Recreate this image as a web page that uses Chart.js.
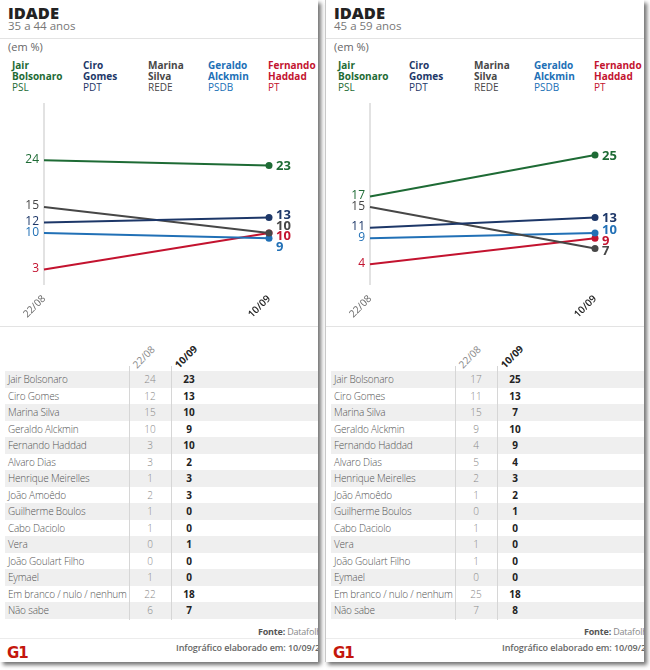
<!DOCTYPE html>
<html lang="pt-BR">
<head>
<meta charset="utf-8">
<script src="https://cdn.jsdelivr.net/npm/chart.js@4.4.1/dist/chart.umd.min.js"></script>
<style>
  body { margin: 0; width: 650px; height: 670px; background: #fff; font-family: 'Open Sans', sans-serif; position: relative; overflow: hidden; }
  .painel { position: absolute; top: 0; width: 318px; height: 662px; background: #fff; overflow: hidden; box-shadow: 3px 3px 4px rgba(0,0,0,.55); }
  .titulo { position: absolute; left: 8px; top: 1px; font-size: 16.5px; font-weight: 800; color: #222; }
  .faixa { position: absolute; left: 8px; top: 18px; font-size: 11.5px; color: #777; }
  .sep { position: absolute; left: 0; right: 0; height: 1px; background: #e3e3e3; }
  .unidade { position: absolute; left: 8px; top: 39px; font-size: 11px; color: #666; }
  .leg { position: absolute; top: 60px; font-size: 10px; line-height: 11px; }
  .leg b { display: block; font-weight: 700; }
  .grafico { position: absolute; left: 0; top: 95px; width: 318px; height: 231px; }
  .cab { position: absolute; top: 357px; font-size: 10px; transform: rotate(-45deg); transform-origin: left bottom; }
  .linha { position: absolute; left: 5px; right: 0; height: 16.5px; font-size: 10px; line-height: 16.5px; color: #555; }
  .linha span { position: absolute; top: 0; }
  .vline { position: absolute; top: 366px; height: 254px; width: 1px; background: #d6d6d6; }
  .fonte { position: absolute; left: 258px; top: 625px; font-size: 9px; letter-spacing: -0.2px; color: #888; white-space: nowrap; }
  .rodape { position: absolute; left: 176px; top: 641px; font-size: 9px; letter-spacing: -0.1px; font-weight: 600; color: #666; white-space: nowrap; }
  .g1 { position: absolute; left: 7px; top: 644px; font-size: 15px; font-weight: 900; color: #c4170c; letter-spacing: -1px; font-family: 'DejaVu Sans', sans-serif; }
</style>
</head>
<body>
<script>
// Pesquisa Datafolha - intenção de voto por idade
const datas = ['22/08', '10/09'];
const faixas = ['35 a 44 anos', '45 a 59 anos'];

const legendaNomes = [['Jair', 'Bolsonaro'], ['Ciro', 'Gomes'], ['Marina', 'Silva'], ['Geraldo', 'Alckmin'], ['Fernando', 'Haddad']];
const partidos = ['PSL', 'PDT', 'REDE', 'PSDB', 'PT'];
const cores = ['#1e6b35', '#1d3768', '#474747', '#2170b6', '#c3132f'];

const linhasTabela = [
    'Jair Bolsonaro', 'Ciro Gomes', 'Marina Silva', 'Geraldo Alckmin', 'Fernando Haddad',
    'Alvaro Dias', 'Henrique Meirelles', 'João Amoêdo', 'Guilherme Boulos', 'Cabo Daciolo',
    'Vera', 'João Goulart Filho', 'Eymael', 'Em branco / nulo / nenhum', 'Não sabe',
];

// os 5 primeiros valores de cada lista são as linhas do gráfico
const idade35a44_2208 = [24, 12, 15, 10, 3, 3, 1, 2, 1, 1, 0, 0, 1, 22, 6];
const idade35a44_1009 = [23, 13, 10, 9, 10, 2, 3, 3, 0, 0, 1, 0, 0, 18, 7];
const idade45a59_2208 = [17, 11, 15, 9, 4, 5, 2, 1, 0, 1, 1, 1, 0, 25, 7];
const idade45a59_1009 = [25, 13, 7, 10, 9, 4, 3, 2, 1, 0, 0, 0, 0, 18, 8];

const paineis = [
    { faixa: faixas[0], antes: idade35a44_2208, depois: idade35a44_1009, left: 0 },
    { faixa: faixas[1], antes: idade45a59_2208, depois: idade45a59_1009, left: 325 },
];

const colunasLegenda = [12, 83, 148, 208, 268];

// afasta rótulos que ficariam sobrepostos
function espalhar(itens, gap) {
    itens.sort((a, b) => a.y - b.y || a.i - b.i);
    for (let k = 0; k < 60; k++) {
        for (let j = 1; j < itens.length; j++) {
            const d = itens[j].y - itens[j - 1].y;
            if (d < gap) {
                const m = (gap - d) / 2;
                itens[j - 1].y -= m;
                itens[j].y += m;
            }
        }
    }
    return itens;
}

const eixoERotulos = {
    id: 'eixoERotulos',
    beforeDatasetsDraw(chart) {
        const { ctx, chartArea, scales: { x } } = chart;
        const x0 = x.getPixelForValue(0);
        ctx.save();
        ctx.strokeStyle = '#d9d9d9';
        ctx.lineWidth = 1.5;
        ctx.beginPath();
        ctx.moveTo(x0, chartArea.top);
        ctx.lineTo(x0, chartArea.bottom);
        ctx.stroke();
        ctx.restore();
    },
    afterDatasetsDraw(chart) {
        const { ctx, scales: { x, y } } = chart;
        const ds = chart.data.datasets;
        const inicio = espalhar(ds.map((d, i) => ({ i, v: d.data[0], y: y.getPixelForValue(d.data[0]) })), 11);
        const fim = espalhar(ds.map((d, i) => ({ i, v: d.data[1], y: y.getPixelForValue(d.data[1]) })), 10.5);
        ctx.save();
        ctx.textBaseline = 'middle';
        ctx.textAlign = 'right';
        ctx.font = '12px "Open Sans"';
        inicio.forEach((r) => {
            ctx.fillStyle = cores[r.i];
            ctx.fillText(r.v, x.getPixelForValue(0) - 5, r.y - 1);
        });
        ctx.textAlign = 'left';
        ctx.font = 'bold 13px "Open Sans"';
        fim.forEach((r) => {
            ctx.fillStyle = cores[r.i];
            ctx.fillText(r.v, x.getPixelForValue(1) + 7, r.y + 1);
        });
        ctx.restore();
    },
};

paineis.forEach((p, n) => {
    const el = document.createElement('div');
    el.className = 'painel';
    el.style.left = p.left + 'px';
    if (n > 0) el.style.borderLeft = '1px solid #c8c8c8';

    let html = `<div class="titulo">IDADE</div><div class="faixa">${p.faixa}</div>
        <div class="sep" style="top:38px"></div><div class="unidade">(em %)</div>`;
    legendaNomes.forEach((nome, i) => {
        html += `<div class="leg" style="left:${colunasLegenda[i]}px;color:${cores[i]}"><b>${nome[0]}</b><b>${nome[1]}</b>${partidos[i]}</div>`;
    });
    html += `<div class="grafico"><canvas></canvas></div>
        <div class="sep" style="top:326px"></div>
        <div class="cab" style="left:139px;color:#888">${datas[0]}</div>
        <div class="cab" style="left:181px;color:#222;font-weight:700">${datas[1]}</div>`;
    linhasTabela.forEach((nome, i) => {
        const fundo = i % 2 === 0 ? '#efefef' : 'transparent';
        html += `<div class="linha" style="top:${371 + i * 16.5}px;background:${fundo}">
            <span style="left:3px;font-weight:300;letter-spacing:-0.2px">${nome}</span>
            <span style="left:125px;width:40px;text-align:center;color:#888;font-weight:300">${p.antes[i]}</span>
            <span style="left:164px;width:40px;text-align:center;color:#222;font-weight:700">${p.depois[i]}</span></div>`;
    });
    html += `<div class="vline" style="left:129px"></div><div class="vline" style="left:171px"></div>
        <div class="fonte"><b style="color:#555">Fonte:</b> Datafolha</div>
        <div class="sep" style="top:638px;background:#ececec"></div>
        <div class="g1">G1</div>
        <div class="rodape">Infográfico elaborado em: 10/09/2018</div>`;
    el.innerHTML = html;
    document.body.appendChild(el);

    new Chart(el.querySelector('canvas'), {
        type: 'line',
        data: {
            labels: datas,
            datasets: legendaNomes.map((nome, i) => ({
                label: nome.join(' '),
                data: [p.antes[i], p.depois[i]],
                borderColor: cores[i],
                backgroundColor: cores[i],
                borderWidth: 2,
                pointRadius: [0, 3.5],
                pointBackgroundColor: cores[i],
                pointBorderWidth: 0,
                tension: 0,
                clip: false,
            })),
        },
        options: {
            responsive: true,
            maintainAspectRatio: false,
            animation: false,
            layout: { padding: { top: 8, left: 44, right: 49, bottom: 7 } },
            plugins: { legend: { display: false }, tooltip: { enabled: false } },
            scales: {
                x: {
                    offset: false,
                    grid: { display: false },
                    border: { display: false },
                    ticks: {
                        minRotation: 45,
                        maxRotation: 45,
                        padding: 0,
                        color: (c) => (c.index === 1 ? '#222' : '#666'),
                        font: (c) => ({ family: 'Open Sans', size: 10, weight: c.index === 1 ? '600' : 'normal' }),
                    },
                    afterFit: (s) => { s.height = 34; },
                },
                y: { display: false, min: 0, max: 35 },
            },
        },
        plugins: [eixoERotulos],
    });
});
</script>
</body>
</html>
